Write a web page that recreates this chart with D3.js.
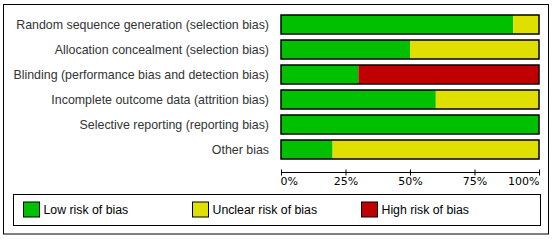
<!DOCTYPE html>
<html><head><meta charset="utf-8">
<script src="https://cdn.jsdelivr.net/npm/d3@7"></script>
<style>html,body{margin:0;padding:0;background:#fff;}</style>
</head><body>
<script>
const categories = [
  "Random sequence generation (selection bias)",
  "Allocation concealment (selection bias)",
  "Blinding (performance bias and detection bias)",
  "Incomplete outcome data (attrition bias)",
  "Selective reporting (reporting bias)",
  "Other bias"
];
const lowRisk =     [90, 50, 30, 60, 100, 20];
const unclearRisk = [10, 50,  0, 40,   0, 80];
const highRisk =    [ 0,  0, 70,  0,   0,  0];
const seriesNames = ["Low risk of bias", "Unclear risk of bias", "High risk of bias"];
const seriesColors = ["#00c000", "#e0e000", "#c00000"];
const tickValues = [0, 25, 50, 75, 100];
const tickLabels = ["0%", "25%", "50%", "75%", "100%"];

const W = 560, H = 247;
const svg = d3.select("body").append("svg").attr("width", W).attr("height", H);

svg.append("rect").attr("x", 3.5).attr("y", 4.5).attr("width", 545).attr("height", 229.5)
  .attr("fill", "#fff").attr("stroke", "#000").attr("stroke-width", 1);

const x = d3.scaleLinear().domain([0, 100]).range([281, 539]);
const y = d3.scaleBand().domain(categories).range([12, 162]).paddingInner(0.24).paddingOuter(0.12);

const data = categories.map((c, i) => ({cat: c, vals: [lowRisk[i], unclearRisk[i], highRisk[i]]}));
const stack = [];
data.forEach(d => {
  let acc = 0;
  d.vals.forEach((v, k) => {
    if (v > 0) stack.push({cat: d.cat, x0: acc, x1: acc + v, k});
    acc += v;
  });
});

svg.append("g").selectAll("rect.seg").data(stack).join("rect")
  .attr("x", d => x(d.x0)).attr("width", d => x(d.x1) - x(d.x0))
  .attr("y", d => y(d.cat)).attr("height", y.bandwidth())
  .attr("fill", d => seriesColors[d.k]);

svg.append("g").selectAll("rect.out").data(categories).join("rect")
  .attr("x", x(0)).attr("width", x(100) - x(0))
  .attr("y", d => y(d)).attr("height", y.bandwidth())
  .attr("fill", "none").attr("stroke", "#000").attr("stroke-width", 1.5);

svg.append("g").selectAll("text").data(categories).join("text")
  .attr("x", 269).attr("y", d => y(d) + y.bandwidth() / 2)
  .attr("dy", "0.35em").attr("text-anchor", "end")
  .attr("font-family", "Liberation Sans, Arial, sans-serif").attr("font-size", 12.4)
  .attr("fill", "#333").text(d => d);

const axis = d3.axisBottom(x).tickValues(tickValues).tickFormat((d, i) => tickLabels[i])
  .tickSize(4).tickSizeOuter(0);
const ax = svg.append("g").attr("transform", "translate(0,172.5)").call(axis);
ax.select(".domain").attr("stroke", "#000").attr("d", `M${x(0)},0H${x(100)}`);
ax.selectAll(".tick line").attr("stroke", "#000").attr("y1", -3).attr("y2", 3);
ax.selectAll(".tick text").attr("y", 5).attr("dy", "0.71em")
  .attr("font-family", "DejaVu Sans, sans-serif").attr("font-size", 11).attr("fill", "#000")
  .attr("text-anchor", (d, i) => i === 0 ? "start" : (i === tickValues.length - 1 ? "end" : "middle"))
  .attr("dx", (d, i) => i === 0 ? -1 : 0);

// legend
svg.append("rect").attr("x", 13.5).attr("y", 194.5).attr("width", 527).attr("height", 31)
  .attr("fill", "#fff").attr("stroke", "#000").attr("stroke-width", 1);
const legX = [23.5, 192.5, 361.5];
const leg = svg.append("g").selectAll("g").data(seriesNames).join("g")
  .attr("transform", (d, i) => `translate(${legX[i]},202)`);
leg.append("rect").attr("width", 16).attr("height", 15)
  .attr("fill", (d, i) => seriesColors[i]).attr("stroke", "#000").attr("stroke-width", 1);
leg.append("text").attr("x", 20).attr("y", 7.5).attr("dy", "0.35em")
  .attr("font-family", "Liberation Sans, Arial, sans-serif").attr("font-size", 12.3)
  .attr("fill", "#000").text(d => d);
</script>
</body></html>
